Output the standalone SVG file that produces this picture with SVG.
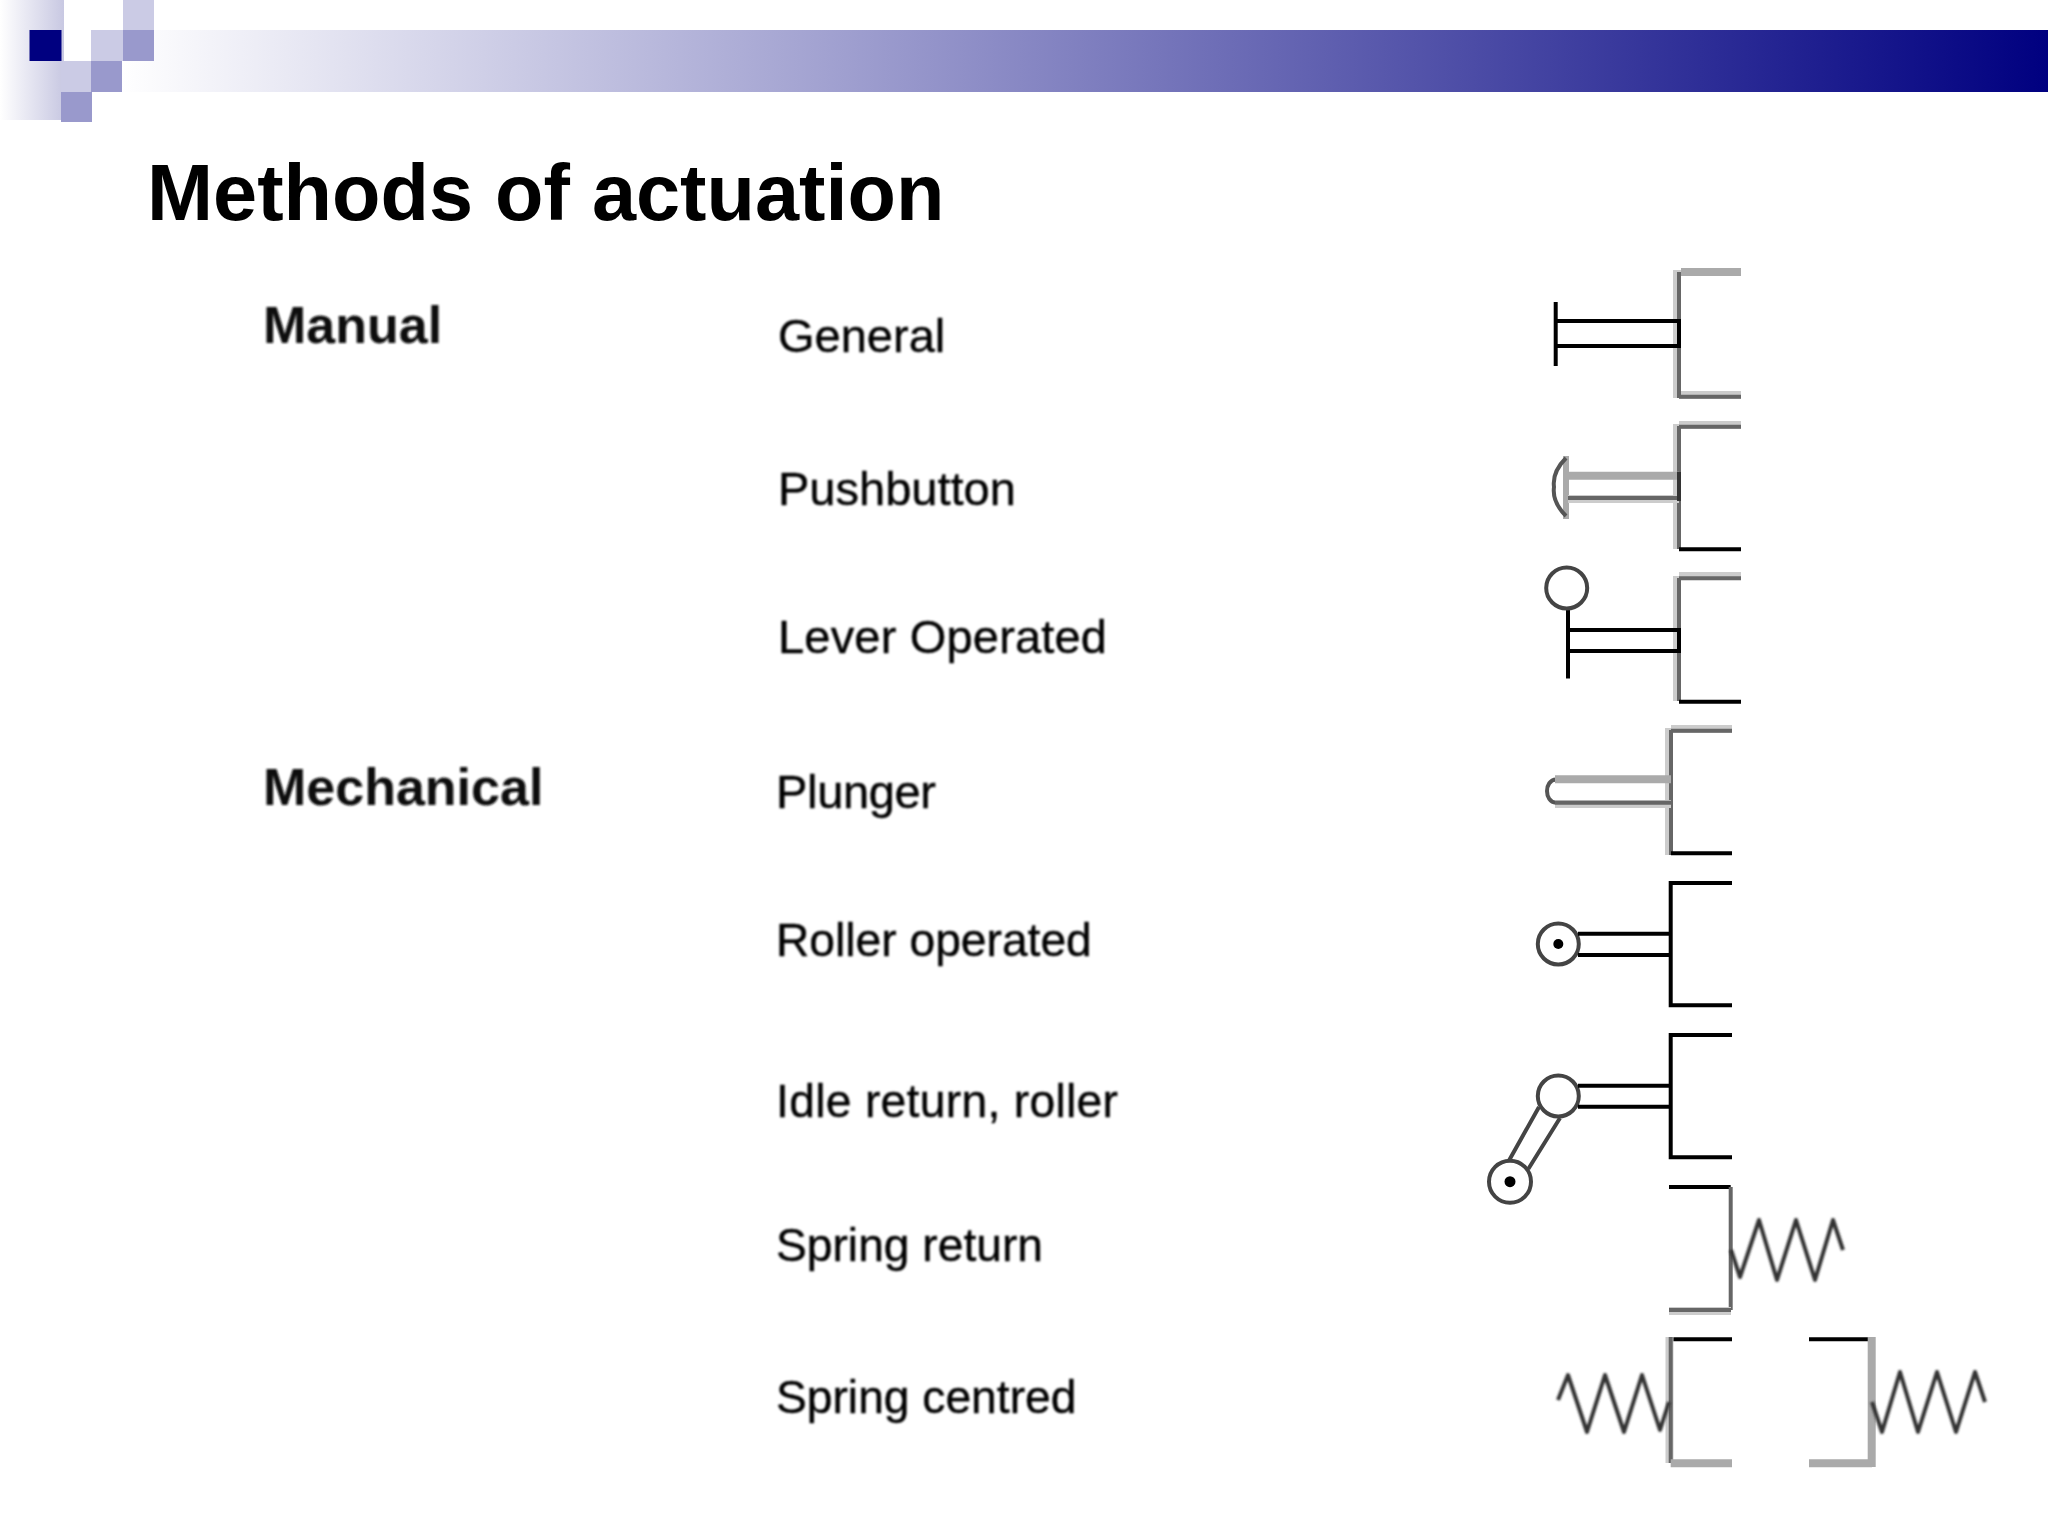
<svg xmlns="http://www.w3.org/2000/svg" width="2048" height="1536" viewBox="0 0 2048 1536">
<defs>
<linearGradient id="bar" x1="0" x2="1" y1="0" y2="0"><stop offset="0" stop-color="#ffffff"/><stop offset="1" stop-color="#000080"/></linearGradient>
<linearGradient id="side" x1="0" x2="1" y1="0" y2="0"><stop offset="0" stop-color="#ffffff"/><stop offset="1" stop-color="#c8c8e2"/></linearGradient>
<filter id="soft" x="-5%" y="-20%" width="110%" height="140%"><feGaussianBlur stdDeviation="0.8"/></filter>
</defs>
<style>
.k{fill:none;stroke:#000;stroke-width:4}
.m{fill:none;stroke:#666;stroke-width:4}
.h{fill:none;stroke:#ccc;stroke-width:8}
.l{fill:none;stroke:#aaa;stroke-width:8}
.d{fill:none;stroke:#444;stroke-width:4}
.s{fill:none;stroke:#333;stroke-width:4;stroke-linejoin:round;filter:url(#soft)}
.dot{fill:#000}
.t{font-family:"Liberation Sans",Arial,sans-serif;fill:#000}
.ti{font-size:79.300px;font-weight:700}
.g{font-size:47px;stroke:#000;stroke-width:.4;filter:url(#soft)}
.g2{font-size:46.200px;stroke:#000;stroke-width:.4;filter:url(#soft)}
.c{font-size:52px;font-weight:700;fill:#111;filter:url(#soft)}
</style>
<rect width="2048" height="1536" fill="#fff"/>
<g id="banner">
<rect x="0" y="0" width="64" height="120" fill="url(#side)"/>
<rect x="64" y="0" width="27" height="61" fill="#fff"/>
<rect x="120" y="30" width="1928" height="62" fill="url(#bar)"/>
<rect x="61" y="61" width="30" height="31" fill="#cbcbe5"/>
<rect x="91" y="30" width="32" height="31" fill="#cbcbe5"/>
<rect x="123" y="0" width="31" height="30" fill="#cbcbe5"/>
<rect x="123" y="30" width="31" height="31" fill="#9999cc"/>
<rect x="91" y="61" width="31" height="31" fill="#9999cc"/>
<rect x="61" y="92" width="31" height="30" fill="#9999cc"/>
<rect x="29.500" y="30" width="32" height="31" fill="#000080"/>
</g>
<text id="title" class="t ti" x="147" y="220">Methods of actuation</text>
<g id="categories">
<text class="t c" x="263" y="343">Manual</text>
<text class="t c" x="263" y="805">Mechanical</text>
</g>
<g id="labels">
<text class="t g" x="778" y="352">General</text>
<text class="t g" x="778" y="504.500">Pushbutton</text>
<text class="t g" x="778" y="652.500" textLength="329">Lever Operated</text>
<text class="t g" x="776" y="808" textLength="160">Plunger</text>
<text class="t g2" x="776" y="956">Roller operated</text>
<text class="t g2" x="776" y="1117" textLength="342">Idle return, roller</text>
<text class="t g2" x="776" y="1261">Spring return</text>
<text class="t g2" x="776" y="1413">Spring centred</text>
</g>
<g id="general">
<path class="l" d="M1681 272H1741"/>
<path class="h" d="M1677 270V398M1679 395H1741"/>
<path class="m" d="M1679 272V398M1679 396.800H1741"/>
<path class="k" d="M1555.700 302V366"/>
</g>
<g id="pushbutton">
<path class="h" d="M1677 424V549M1679 425H1741"/>
<path class="m" d="M1679 426.700H1741M1679 426V549"/>
<path class="k" d="M1679 549.300H1741"/>
<path class="l" style="stroke-width:6" d="M1566 456V519"/>
<path class="d" style="stroke:#555" d="M1566 458Q1552 472 1554 487Q1552 502 1566 516"/>
</g>
<g id="lever">
<path class="h" d="M1677 576V701M1679 576H1741"/>
<path class="m" d="M1679 578.300H1741M1679 578V701"/>
<path class="k" d="M1679 701.700H1741"/>
<path class="k" d="M1568 609V678.500"/>
<circle class="d" cx="1566.700" cy="588" r="20.500"/>
</g>
<g id="plunger">
<path class="h" d="M1669 728V855M1671 729H1732"/>
<path class="m" d="M1671 730.700H1732M1671 730V855"/>
<path class="k" d="M1671 853.300H1732"/>
<path class="d" style="stroke:#555" d="M1556 779.500C1544 780 1544 802 1556 802.700"/>
</g>
<g id="roller">
<path class="k" d="M1732 883H1670.700V1005.300H1732"/>
<circle class="d" cx="1558.300" cy="944" r="20.500"/>
<circle class="dot" cx="1558.300" cy="944" r="5"/>
</g>
<g id="idle-return">
<path class="k" d="M1732 1035H1670.700V1157.300H1732"/>
<circle class="d" cx="1558.300" cy="1096" r="20.500"/>
<circle class="d" cx="1510" cy="1181.700" r="21"/>
<circle class="dot" cx="1510" cy="1181.700" r="5.500"/>
</g>
<g id="spring-return">
<path class="k" d="M1669 1187H1730.700"/>
<path class="m" d="M1730.700 1187V1310"/>
<path class="h" d="M1669 1311H1731"/>
<path class="m" d="M1669 1310H1731"/>
<polyline class="s" points="1731,1250 1740,1277 1759,1220 1777,1280 1796,1220 1815,1280 1833,1220 1843,1250"/>
</g>
<g id="spring-centred">
<path class="k" d="M1670.700 1339.300H1732"/>
<path class="h" d="M1669.500 1337V1463"/>
<path class="m" d="M1670.700 1337V1463"/>
<path class="l" d="M1670.700 1463.300H1732"/>
<polyline class="s" points="1558,1400 1568,1375 1587,1432 1605,1375 1624,1432 1642,1375 1660,1430 1669,1402"/>
<path class="k" d="M1809 1339.300H1872"/>
<path class="l" d="M1871.700 1337V1467M1809 1463.300H1872"/>
<polyline class="s" points="1872,1402 1882,1432 1900,1372 1918,1432 1937,1372 1956,1432 1975,1372 1985,1402"/>
</g>
<g id="connectors">
<path class="k" d="M1681 321H1556M1681 346H1556M1679 319V348"/>
<path class="l" d="M1568 475.700H1679"/>
<path class="h" d="M1568 499H1679"/>
<path class="m" d="M1568 498H1679"/>
<path class="m" style="stroke:#333" d="M1679 472V501"/>
<path class="k" d="M1681 630H1568M1681 651H1568M1679 628V653"/>
<path class="l" d="M1555 779.300H1671"/>
<path class="h" d="M1555 804H1671"/>
<path class="m" d="M1555 802.700H1671"/>
<path class="k" d="M1671 933.700H1578M1671 955H1578"/>
<path class="k" d="M1671 1085.700H1578M1671 1106.700H1578"/>
<path class="d" d="M1539 1107L1509.300 1160M1560 1118L1528.300 1169"/>
</g>
</svg>
